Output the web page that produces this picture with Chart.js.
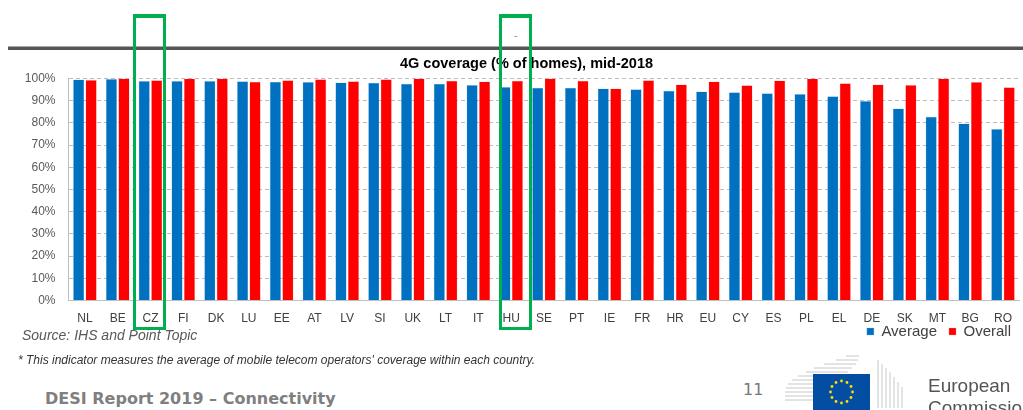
<!DOCTYPE html>
<html>
<head>
<meta charset="utf-8">
<script src="https://cdn.jsdelivr.net/npm/chart.js@4/dist/chart.umd.min.js"></script>
<style>
  html, body { margin: 0; padding: 0; background: #fff; }
  body { width: 1023px; height: 410px; position: relative; overflow: hidden; font-family: "Liberation Sans", Arial, sans-serif; }
  #topline { position: absolute; left: 8px; top: 46px; width: 1015px; height: 3px; background: #555; border-top: 1px solid #aaa; }
  #dash { position: absolute; left: 514px; top: 30px; font-size: 10px; color: #888; }
  #wrap { position: absolute; left: 0; top: 52px; width: 1023px; height: 322px; }
  .gbox { position: absolute; top: 14px; height: 309px; width: 27px; border: 3px solid #00B050; border-top-width: 4px; }
  #source { position: absolute; left: 22px; top: 327px; font-size: 14px; font-style: italic; color: #595959; }
  #note { position: absolute; left: 18px; top: 353px; font-size: 12px; font-style: italic; color: #333; }
  #desi { position: absolute; left: 45px; top: 389px; font-family: "DejaVu Sans", Verdana, sans-serif; font-weight: bold; font-size: 16px; color: #7f7f7f; white-space: nowrap; }
  #page { position: absolute; left: 743px; top: 380px; font-family: "DejaVu Sans", Verdana, sans-serif; font-size: 16px; color: #777; }
  #logo { position: absolute; left: 780px; top: 350px; }
  #ec1 { position: absolute; left: 928px; top: 375px; font-size: 19px; color: #555; }
  #ec2 { position: absolute; left: 928px; top: 397px; font-size: 19px; color: #555; }
</style>
</head>
<body>
<div id="topline"></div>
<div id="dash">-</div>
<div id="wrap"><canvas id="c" width="1023" height="322"></canvas></div>
<div class="gbox" style="left:133px"></div>
<div class="gbox" style="left:499px"></div>
<div id="source">Source: IHS and Point Topic</div>
<div id="note">* This indicator measures the average of mobile telecom operators' coverage within each country.</div>
<div id="desi">DESI Report 2019 – Connectivity</div>
<div id="page">11</div>
<svg id="logo" width="130" height="60" viewBox="0 0 130 60">
  <g stroke="#c8c8c8" stroke-width="1">
    <path d="M5 50 H33 M5 46 H33 M5 42 H33 M6 38 H40 M8 34 H48 M12 30 H56 M18 26 H62 M26 22 H68 M34 18 H72 M44 14 H76 M56 10 H78 M66 6 H79"/>
    <path d="M98 10 V58 M102 14 V58 M106 18 V58 M110 22 V58 M114 27 V58 M118 32 V58 M122 37 V58"/>
  </g>
  <rect x="33" y="24" width="57" height="40" fill="#034ea2"/>
  <g fill="#ffdd00">
    <circle cx="61.5" cy="31" r="1.4"/><circle cx="67" cy="32.5" r="1.4"/><circle cx="71" cy="36.5" r="1.4"/>
    <circle cx="72.5" cy="42" r="1.4"/><circle cx="71" cy="47.5" r="1.4"/><circle cx="67" cy="51.5" r="1.4"/>
    <circle cx="61.5" cy="53" r="1.4"/><circle cx="56" cy="51.5" r="1.4"/><circle cx="52" cy="47.5" r="1.4"/>
    <circle cx="50.5" cy="42" r="1.4"/><circle cx="52" cy="36.5" r="1.4"/><circle cx="56" cy="32.5" r="1.4"/>
  </g>
</svg>
<div id="ec1">European</div>
<div id="ec2">Commission</div>
<script>
const categories = ['NL','BE','CZ','FI','DK','LU','EE','AT','LV','SI','UK','LT','IT','HU','SE','PT','IE','FR','HR','EU','CY','ES','PL','EL','DE','SK','MT','BG','RO'];
const averageValues = [99.5, 99.7, 98.8, 98.8, 98.8, 98.7, 98.5, 98.4, 98.2, 98.0, 97.6, 97.6, 97.0, 96.1, 95.8, 95.8, 95.5, 95.1, 94.4, 94.1, 93.8, 93.3, 93.0, 92.0, 89.8, 86.4, 82.7, 79.7, 77.2];
const overallValues = [99.3, 100, 99.2, 100, 100, 98.5, 99.2, 99.6, 98.7, 99.6, 100, 98.9, 98.6, 98.9, 100, 98.9, 95.5, 99.2, 97.2, 98.6, 96.9, 99.1, 99.9, 97.8, 97.2, 97.0, 99.9, 98.4, 96.0];
const yTicks = [0, 10, 20, 30, 40, 50, 60, 70, 80, 90, 100];
const chartTitle = '4G coverage (% of homes), mid-2018';

new Chart(document.getElementById('c'), {
  type: 'bar',
  data: {
    labels: categories,
    datasets: [
      { label: 'Average', data: averageValues, backgroundColor: '#0070C0', borderColor: 'rgba(120,170,220,0.6)', borderWidth: 0.5, categoryPercentage: 0.76, barPercentage: 0.9 },
      { label: 'Overall', data: overallValues, backgroundColor: '#FF0000', borderColor: 'rgba(255,140,140,0.6)', borderWidth: 0.5, categoryPercentage: 0.76, barPercentage: 0.9 }
    ]
  },
  options: {
    responsive: false,
    animation: false,
    devicePixelRatio: 1,
    layout: { padding: 0 },
    plugins: {
      title: { display: true, text: chartTitle, color: '#000', font: { family: 'Liberation Sans', size: 14.5, weight: 'bold' }, padding: { top: 3, bottom: 6 } },
      legend: {
        position: 'bottom', align: 'end',
        labels: { boxWidth: 7, boxHeight: 7, padding: 12, color: '#404040', font: { family: 'Liberation Sans', size: 15 } }
      },
      tooltip: { enabled: false }
    },
    scales: {
      x: {
        grid: { display: false, drawTicks: false },
        border: { color: '#bfbfbf', width: 1 },
        ticks: { autoSkip: false, maxRotation: 0, padding: 11, color: '#404040', font: { family: 'Liberation Sans', size: 12 } }
      },
      y: {
        min: 0, max: 100,
        afterFit: (s) => { s.width = 68.5; },
        afterBuildTicks: (s) => { s.ticks = yTicks.map(v => ({ value: v })); },
        grid: { color: '#bdbdbd', drawTicks: false, tickLength: 0 },
        border: { color: '#bfbfbf', dash: [4, 3], display: true },
        ticks: { padding: 13, color: '#595959', font: { family: 'Liberation Sans', size: 12 }, callback: (v) => v + '%' }
      }
    }
  },
  plugins: [{
    id: 'placeBlocks',
    afterLayout(chart) {
      const t = chart.titleBlock;
      if (t) { t.left = 30; }
      const l = chart.legend;
      if (l) {
        const w = l.right - l.left;
        l.right = 1023; l.left = l.right - w;
        l.top -= 25; l.bottom -= 25;
      }
    }
  }]
});
</script>
</body>
</html>
